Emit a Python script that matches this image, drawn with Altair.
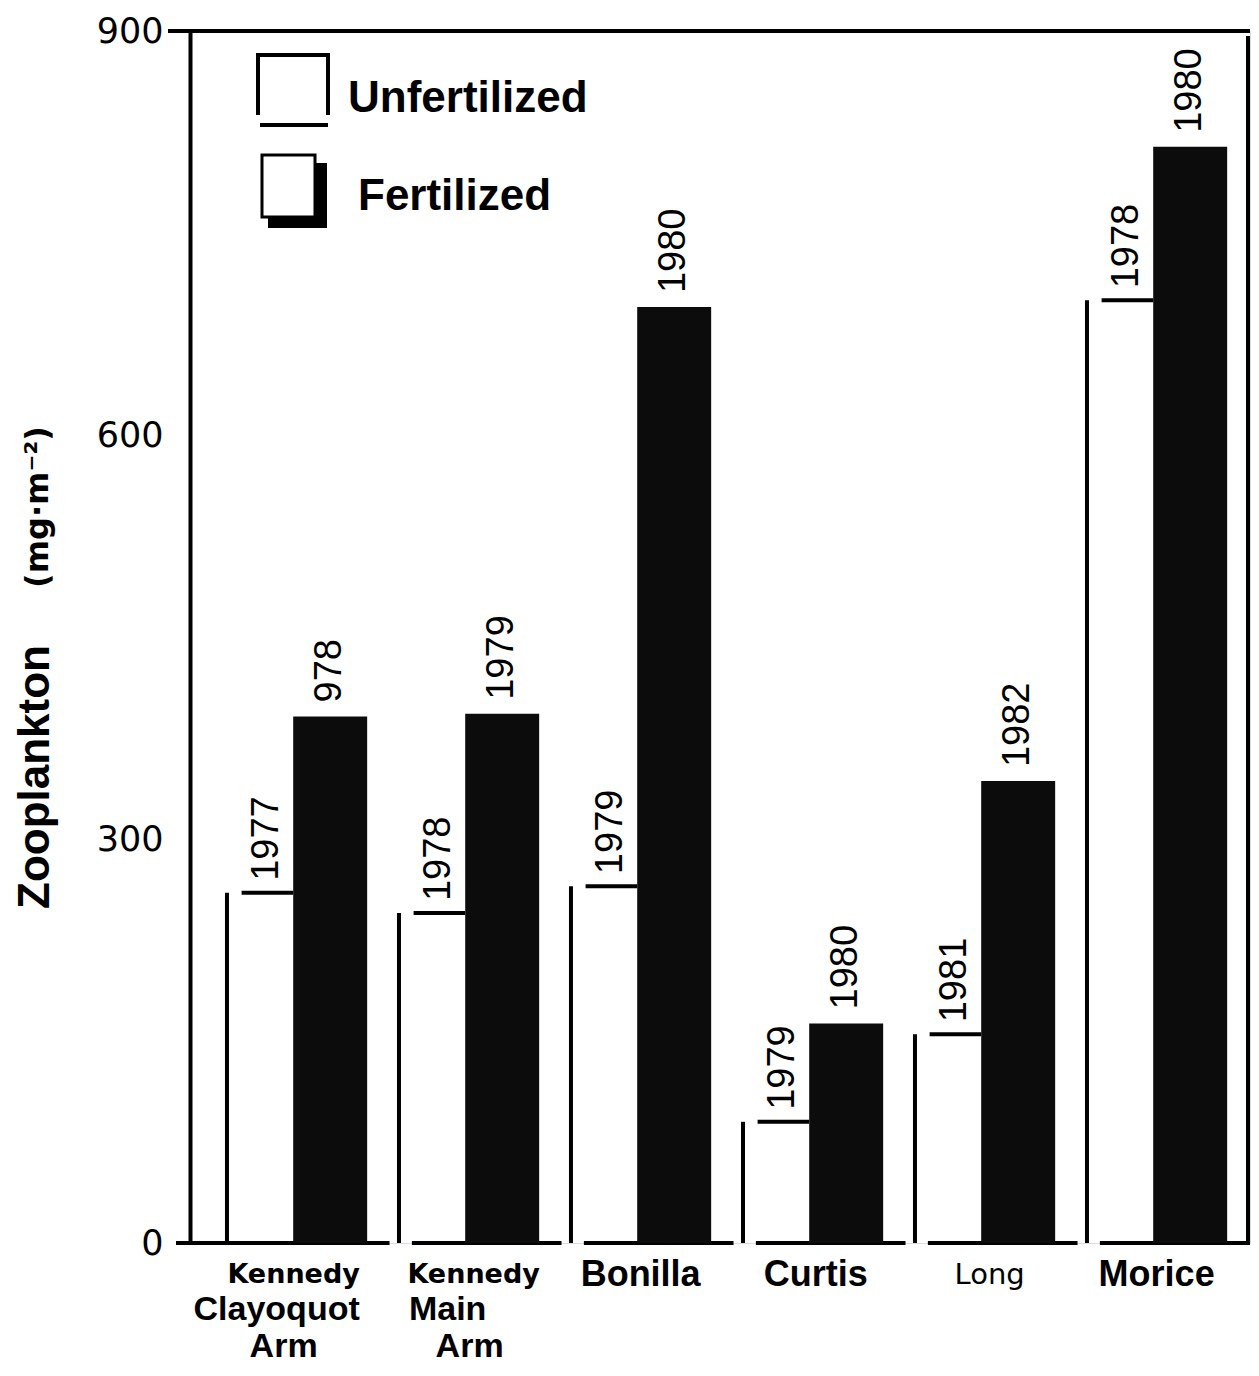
import altair as alt
import pandas as pd

# ---------------- data ----------------
lakes = ["Kennedy Clayoquot Arm", "Kennedy Main Arm", "Bonilla", "Curtis", "Long", "Morice"]
unfert = [260, 245, 265, 90, 155, 700]
fert = [391, 393, 695, 163, 343, 814]
unfert_year = ["1977", "1978", "1979", "1979", "1981", "1978"]
fert_year = ["978", "1979", "1980", "1980", "1982", "1980"]
label_top = ["Kennedy", "Kennedy", "", "", "", ""]
label_main = ["Clayoquot\nArm", "Main\nArm", "Bonilla", "Curtis", "Long", "Morice"]
y_ticks = [0, 300, 600, 900]

# ---------------- layout ----------------
W, H = 1060, 1212
TOP = 23
DY = TOP + 8 - 25      # offset vs. reference plot top
UNIT = 172.0          # px per lake group
XMAX = W / UNIT
OFF = dict(vline=0.215, top0=0.30, top1=0.60, bar0=0.60, bar1=1.03,
           base0=0.29, base1=1.16, center=0.62)
LINE_SHIFT = {(0, 0): -3, (0, 1): -20, (0, 2): -13, (1, 0): 5, (1, 1): -21, (1, 2): 1,
              (3, 0): 3, (4, 0): 5}
LINE_Y = [1244, 1279, 1316]
YEAR_FONT = "Liberation Sans, Arial, Helvetica, sans-serif"

df = pd.DataFrame({"idx": list(range(len(lakes))), "lake": lakes, "unf": unfert,
                   "fert": fert, "uy": unfert_year, "fy": fert_year})
df["zero"] = 0

xs = alt.Scale(domain=[0, XMAX], nice=False, zero=False)
ys = alt.Scale(domain=[0, 900], nice=False)
yaxis = alt.Axis(values=y_ticks, title=None, grid=False, ticks=False, domain=True,
                 domainColor="black", domainWidth=4, labelFont="DejaVu Sans",
                 labelFontSize=35, labelColor="black", labelPadding=27, labelFlush=False)


def X(f):
    return alt.X(f, scale=xs, axis=None)


def Y(f):
    return alt.Y(f, scale=ys, axis=yaxis)


base = alt.Chart(df).transform_calculate(
    vx=f"datum.idx + {OFF['vline']}",
    t0=f"datum.idx + {OFF['top0']}",
    t1=f"datum.idx + {OFF['top1']}",
    f0=f"datum.idx + {OFF['bar0']}",
    f1=f"datum.idx + {OFF['bar1']}",
    b0=f"datum.idx + {OFF['base0']}",
    b1=f"datum.idx + {OFF['base1']}",
    tc=f"datum.idx + {(OFF['top0'] + OFF['top1']) / 2}",
    fc=f"datum.idx + {(OFF['bar0'] + OFF['bar1']) / 2}",
)

baseline = base.mark_rule(strokeWidth=4, color="black").encode(
    x=X("b0:Q"), x2="b1:Q", y=Y("zero:Q"))
vline = base.mark_rule(strokeWidth=4, color="black").encode(
    x=X("vx:Q"), y=Y("zero:Q"), y2="unf:Q")
topline = base.mark_rule(strokeWidth=4, color="black").encode(
    x=X("t0:Q"), x2="t1:Q", y=Y("unf:Q"))
bars = base.mark_rect(color="#0c0c0c").encode(
    x=X("f0:Q"), x2="f1:Q", y=Y("zero:Q"), y2="fert:Q")
uyear = base.mark_text(angle=270, align="left", baseline="middle", dx=12,
                       font=YEAR_FONT, fontSize=38, color="black").encode(
    x=X("tc:Q"), y=Y("unf:Q"), text="uy:N")
fyear = base.mark_text(angle=270, align="left", baseline="middle", dx=14,
                       font=YEAR_FONT, fontSize=38, color="black").encode(
    x=X("fc:Q"), y=Y("fert:Q"), text="fy:N")

# ---------------- lake labels ----------------
rows = []
for i, (t, m) in enumerate(zip(label_top, label_main)):
    line = 0
    if t:
        rows.append(dict(idx=i, line=0, text=t, style="spaced"))
        line = 1
    for part in m.split("\n"):
        rows.append(dict(idx=i, line=line, text=part,
                         style="thin" if part == "Long" else "main"))
        line += 1
lab = pd.DataFrame(rows)
lab["lx"] = [r.idx + OFF["center"] + LINE_SHIFT.get((r.idx, r.line), 0) / UNIT
             for r in lab.itertuples()]

STYLES = {
    "spaced": dict(font="DejaVu Sans", fontWeight="bold", fontSize=27),
    "main": dict(font="Liberation Sans", fontWeight="bold", fontSize=34),
    "thin": dict(font="DejaVu Sans", fontWeight="normal", fontSize=29),
}
label_layers = []
for (style, line), _ in lab.groupby(["style", "line"]):
    sub = lab[(lab["style"] == style) & (lab["line"] == line)]
    size = STYLES[style]
    if style == "main" and line == 0:
        size = dict(size, fontSize=36)
    label_layers.append(
        alt.Chart(sub).mark_text(align="center", baseline="middle", color="black",
                                 **size).encode(
            x=X("lx:Q"), y=alt.value(LINE_Y[line]), text="text:N"))

# ---------------- frame & decorations ----------------
one = pd.DataFrame({"k": [0]})


def prule(x, x2, y, y2, w=4):
    enc = dict(x=alt.value(x), y=alt.value(y))
    if x2 is not None:
        enc["x2"] = alt.value(x2)
    if y2 is not None:
        enc["y2"] = alt.value(y2)
    return alt.Chart(one).mark_rule(strokeWidth=w, color="black").encode(**enc)


frame = [
    prule(-22, W, 0, None),          # top line
    prule(W - 2, None, 5, H + 2),    # right line
    prule(-14, 52, H, None),         # zero tick
]

legend = [
    prule(68, None, 30 - DY, 90 - DY),
    prule(66, 140, 30 - DY, None),
    prule(138, None, 30 - DY, 90 - DY),
    prule(70, 138, 100 - DY, None),
    alt.Chart(one).mark_rect(color="black").encode(
        x=alt.value(78), x2=alt.value(137), y=alt.value(138 - DY), y2=alt.value(203 - DY)),
    alt.Chart(one).mark_rect(fill="white", stroke="black", strokeWidth=3).encode(
        x=alt.value(72), x2=alt.value(125), y=alt.value(130 - DY), y2=alt.value(192 - DY)),
    alt.Chart(one).mark_text(align="left", baseline="middle", font="Liberation Sans",
                             fontWeight="bold", fontSize=44, color="black").encode(
        x=alt.value(158), y=alt.value(74 - DY), text=alt.value("Unfertilized")),
    alt.Chart(one).mark_text(align="left", baseline="middle", font="Liberation Sans",
                             fontWeight="bold", fontSize=44, color="black").encode(
        x=alt.value(168), y=alt.value(172 - DY), text=alt.value("Fertilized")),
]

titles = [
    alt.Chart(one).mark_text(angle=270, align="center", baseline="middle",
                             font="Liberation Sans", fontWeight="bold", fontSize=44,
                             color="black").encode(
        x=alt.value(-154), y=alt.value(752 - DY), text=alt.value("Zooplankton")),
    alt.Chart(one).mark_text(angle=270, align="center", baseline="middle",
                             font="DejaVu Sans", fontWeight="bold", fontSize=32,
                             color="black").encode(
        x=alt.value(-152), y=alt.value(482 - DY), text=alt.value("(mg·m⁻²)")),
]

chart = alt.layer(
    baseline, vline, topline, bars, uyear, fyear, *label_layers, *frame, *legend, *titles
).properties(
    width=W, height=H,
    autosize=alt.AutoSizeParams(type="none"),
    padding={"left": 182, "top": TOP, "right": 1, "bottom": 124},
).configure_view(stroke=None).configure(background="white")

chart.save("out.html", embed_options={"renderer": "svg", "actions": False})
